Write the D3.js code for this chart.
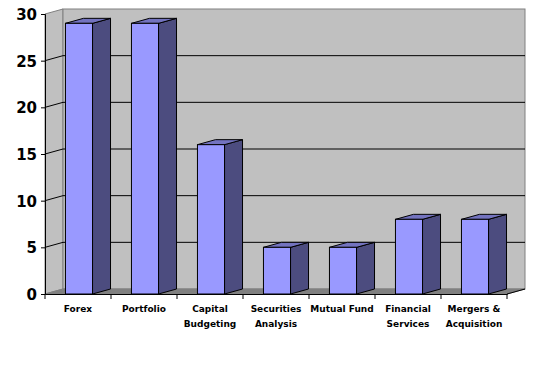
<!DOCTYPE html>
<html>
<head>
<meta charset="utf-8">
<script src="https://cdn.jsdelivr.net/npm/d3@7"></script>
<style>
  body { margin: 0; background: #fff; }
  text { font-family: "DejaVu Sans", sans-serif; font-weight: bold; fill: #000; }
</style>
</head>
<body>
<div class="chart1"></div>
<script>
// chart data
var categories = ["Forex", "Portfolio", "Capital Budgeting", "Securities Analysis", "Mutual Fund", "Financial Services", "Mergers & Acquisition"];
var labelLines = [["Forex"], ["Portfolio"], ["Capital", "Budgeting"], ["Securities", "Analysis"], ["Mutual Fund"], ["Financial", "Services"], ["Mergers &", "Acquisition"]];
var values = [29, 29, 16, 5, 5, 8, 8];
var yTicks = [0, 5, 10, 15, 20, 25, 30];

var width = 542, height = 371;
var dx = 18, dy = -5; // 3d depth offset

var svg = d3.select(".chart1")
    .append("svg")
    .attr("width", width)
    .attr("height", height);

var xScale = d3.scaleBand()
    .domain(categories)
    .range([45, 507]);

var yScale = d3.scaleLinear()
    .domain([0, 30])
    .range([294, 14]);

var x0 = xScale.range()[0], x1 = xScale.range()[1];
var yTop = yScale(30), yBase = yScale(0);

// left side wall
svg.append("polygon")
    .attr("points", [[x0, yTop], [x0 + dx, yTop + dy], [x0 + dx, yBase + dy], [x0, yBase]].join(" "))
    .attr("fill", "#c0c0c0")
    .attr("stroke", "#808080");

// back wall
svg.append("rect")
    .attr("x", x0 + dx)
    .attr("y", yTop + dy)
    .attr("width", x1 - x0)
    .attr("height", yBase - yTop)
    .attr("fill", "#c0c0c0")
    .attr("stroke", "#808080");

// gridlines on the walls
yTicks.filter(function(d) { return d > 0 && d < 30; }).forEach(function(t) {
  svg.append("polyline")
      .attr("points", [[x0, yScale(t)], [x0 + dx, yScale(t) + dy], [x1 + dx, yScale(t) + dy]].join(" "))
      .attr("fill", "none")
      .attr("stroke", "#000")
      .attr("stroke-width", 1);
});

// floor
svg.append("polygon")
    .attr("points", [[x0, yBase], [x1, yBase], [x1 + dx, yBase + dy], [x0 + dx, yBase + dy]].join(" "))
    .attr("fill", "#808080")
    .attr("stroke", "#808080");

// bars
var barOff = xScale.bandwidth() * 0.31;
var barW = xScale.bandwidth() * 0.41;

var bars = svg.selectAll(".bar")
    .data(values)
    .enter()
    .append("g")
    .attr("class", "bar");

// side face
bars.append("polygon")
    .attr("points", function(d, i) {
      var bx = xScale(categories[i]) + barOff + barW;
      return [[bx, yScale(d)], [bx + dx, yScale(d) + dy], [bx + dx, yBase + dy], [bx, yBase]].join(" ");
    })
    .attr("fill", "#4c4c7f")
    .attr("stroke", "#000")
    .attr("stroke-linejoin", "round");

// top face
bars.append("polygon")
    .attr("points", function(d, i) {
      var bx = xScale(categories[i]) + barOff;
      return [[bx, yScale(d)], [bx + dx, yScale(d) + dy], [bx + barW + dx, yScale(d) + dy], [bx + barW, yScale(d)]].join(" ");
    })
    .attr("fill", "#7373bf")
    .attr("stroke", "#000")
    .attr("stroke-linejoin", "round");

// front face
bars.append("rect")
    .attr("x", function(d, i) { return xScale(categories[i]) + barOff; })
    .attr("y", function(d) { return yScale(d); })
    .attr("width", barW)
    .attr("height", function(d) { return yBase - yScale(d); })
    .attr("fill", "#9999ff")
    .attr("stroke", "#000");

// y axis
var yAxis = d3.axisLeft(yScale)
    .tickValues(yTicks)
    .tickSize(4)
    .tickPadding(4);

var gy = svg.append("g")
    .attr("transform", "translate(" + x0 + ",0)")
    .call(yAxis);
gy.select(".domain").attr("stroke", "#000");
gy.selectAll("text")
    .style("font-size", "15px")
    .attr("dy", "0.36em");

// x axis
var xAxis = d3.axisBottom(xScale)
    .tickSize(0)
    .tickFormat("");

var gx = svg.append("g")
    .attr("transform", "translate(0," + yBase + ")")
    .call(xAxis);
gx.select(".domain").attr("stroke", "#000");

// category boundary ticks
svg.selectAll(".xtick")
    .data(categories.concat(["end"]))
    .enter()
    .append("line")
    .attr("class", "xtick")
    .attr("x1", function(d, i) { return i < categories.length ? xScale(d) : x1; })
    .attr("x2", function(d, i) { return i < categories.length ? xScale(d) : x1; })
    .attr("y1", yBase)
    .attr("y2", yBase + 5)
    .attr("stroke", "#000");

// floor right edge
svg.append("line")
    .attr("x1", x1).attr("y1", yBase)
    .attr("x2", x1 + dx).attr("y2", yBase + dy)
    .attr("stroke", "#000");

// category labels
var labels = svg.selectAll(".xlabel")
    .data(labelLines)
    .enter()
    .append("text")
    .attr("class", "xlabel")
    .attr("text-anchor", "middle")
    .style("font-size", "9px");

labels.selectAll("tspan")
    .data(function(d, i) { return d.map(function(s) { return { s: s, i: i }; }); })
    .enter()
    .append("tspan")
    .attr("x", function(d) { return xScale(categories[d.i]) + xScale.bandwidth() / 2; })
    .attr("y", function(d, j) { return yBase + 18 + j * 15; })
    .text(function(d) { return d.s; });
</script>
</body>
</html>
